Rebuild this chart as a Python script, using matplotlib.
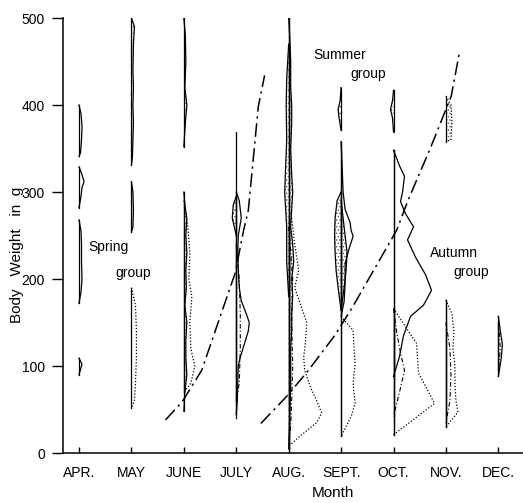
import matplotlib
matplotlib.use("Agg")
import matplotlib.pyplot as plt
import numpy as np

plt.rcParams['font.family'] = ['Liberation Sans', 'DejaVu Sans']
plt.rcParams['hatch.linewidth'] = 0.6

months = ['APR.', 'MAY', 'JUNE', 'JULY', 'AUG.', 'SEPT.', 'OCT.', 'NOV.', 'DEC.']
yticks = [0, 100, 200, 300, 400, 500]

# growth lines (month index, body weight g)
spring_m = [1.65, 1.97, 2.34, 2.98, 3.14, 3.23, 3.42, 3.54]
spring_w = [38, 59, 95, 207, 256, 279, 398, 434]
summer_m = [3.47, 3.96, 4.35, 4.89, 5.22, 6.06, 6.28, 6.70, 7.10, 7.26]
summer_w = [34, 65, 93, 136, 168, 256, 291, 350, 410, 461]

# vertical base lines of the kites: month, low, high
base_m = [3, 4, 5, 6, 7]
base_lo = [40, 5, 19, 21, 30]
base_hi = [369, 500, 358, 348, 176]

# kite profiles: weight (g) and relative frequency (negative = left side)
apr1_w = [400, 390, 375, 360, 345, 341]; apr1_f = [0, 2, 3, 2.5, 1.5, 0]
apr2_w = [329, 320, 312, 305, 295, 282]; apr2_f = [0, 3, 5, 3, 2, 0]
apr3_w = [268, 255, 240, 220, 200, 185, 172]; apr3_f = [0, 2, 2.5, 2.5, 3, 2, 0]
apr4_w = [109, 102, 98, 90]; apr4_f = [0, 3, 2, 0]

may1_w = [500, 490, 470, 440, 420, 400, 380, 360, 340, 331]
may1_f = [0, 3, 2, 1.5, 2, 1.5, 2, 1.5, 1, 0]
may2_w = [312, 300, 280, 260, 254]; may2_f = [0, 1.5, 2, 1.5, 0]
may3_w = [190, 170, 140, 110, 80, 60, 52]; may3_f = [0, 4, 5, 5, 4, 3, 0]

jun1_w = [500, 480, 450, 420, 400, 380, 352]; jun1_f = [0, 1.5, 2, 1, 3, 1.5, 0]
jun2_w = [300, 285, 270, 250, 230, 210, 190, 170, 150, 130, 110, 90, 70, 48]
jun2_f = [0, 1, 3, 2, 3, 2, 2.5, 1, 3, 2, 2, 3, 1, 0]
jun3_w = [290, 260, 230, 200, 180, 150, 120, 100, 80, 70]
jun3_f = [0, 4, 6, 5, 8, 6, 7, 11, 7, 0]

jul1_w = [300, 290, 270, 250, 230, 210, 190, 175, 160, 150, 140, 125, 110, 100, 80, 60, 45]
jul1_f = [0, 3, 5, 2, 1.5, 2, 3, 5, 10, 13, 12, 8, 4, 2, 1.5, 1, 0]
jul2_w = [295, 285, 270, 260, 250]; jul2_f = [0, -3, -4, -2, 0]
jul3_w = [240, 200, 160, 120, 80, 60]; jul3_f = [0, 3, 4, 4, 3, 0]

aug1_w = [500, 480, 450, 420, 400, 380, 350, 320, 300, 280, 260, 240, 220, 200, 180,
          160, 140, 120, 100, 80, 60, 40, 20, 5]
aug1_f = [0, 1, 2, 2, 3, 3, 2, 3, 4, 3, 2, 4, 5, 3, 4, 3, 3, 2, 2, 2, 1.5, 1, 0.5, 0]
aug2_w = [470, 430, 400, 360, 330, 300, 280, 260, 240, 220, 200, 180]
aug2_f = [0, -2, -2.5, -2, -3, -4, -3, -2, -2, -2, -1, 0]
aug3_w = [270, 240, 210, 190, 170, 150, 130, 110, 95, 75, 60, 46, 35, 20, 8]
aug3_f = [3, 6, 10, 6, 12, 18, 17, 15, 16, 22, 28, 33, 28, 12, 0]
aug4_w = [260, 200, 150, 100, 60, 30, 10]; aug4_f = [0, 4, 3, 4, 3, 2, 0]

sep1_w = [420, 405, 395, 385, 371]; sep1_f = [0, -1, -3, -2, 0]
sep2_w = [300, 290, 270, 250, 230, 210, 190, 164]; sep2_f = [0, -4, -6, -6.5, -6, -5, -3, 0]
sep3_w = [290, 270, 250, 230, 210, 190, 164]; sep3_f = [0, 2, 4, 6, 5, 3, 0]
sep4_w = [358, 330, 300, 280, 265, 256, 249, 235, 218, 195, 174, 157]
sep4_f = [0, 1, 2, 4, 9, 10, 12, 8, 4, 4, 3, 0]
sep5_w = [157, 141, 120, 103, 80, 57, 42, 19]; sep5_f = [0, 12, 13, 14, 12, 14, 10, 0]

oct1_w = [417, 405, 395, 385, 369]; oct1_f = [0, -1, -3, -1, 0]
oct2_w = [348, 330, 318, 300, 289, 275, 260, 245, 225, 205, 187, 170, 157, 135, 111, 88]
oct2_f = [0, 6, 11, 9, 7, 12, 20, 14, 22, 32, 38, 30, 17, 10, 6, 0]
oct3_w = [166, 126, 92, 57, 21]; oct3_f = [0, 23, 25, 41, 0]
oct4_w = [166, 140, 115, 95, 70, 42]; oct4_f = [0, 3, 7, 11, 6, 0]

nov1_w = [410, 400, 380, 360, 358]; nov1_f = [0, 5, 6, 5, 0]
nov2_w = [176, 160, 140, 120, 100, 80, 60, 47, 30]; nov2_f = [0, 6, 8, 7, 9, 9, 10, 12, 0]
nov3_w = [150, 120, 90, 60, 35]; nov3_f = [0, 4, 5, 4, 0]

dec1_w = [157, 140, 125, 110, 88]; dec1_f = [0, 2, 4, 3, 0]
dec2_w = [150, 120, 95]; dec2_f = [0, 2, 0]

kites = [
    (0, apr1_w, apr1_f, '-', False), (0, apr2_w, apr2_f, '-', False),
    (0, apr3_w, apr3_f, '-', False), (0, apr4_w, apr4_f, '-', False),
    (1, may1_w, may1_f, '-', True), (1, may2_w, may2_f, '-', True),
    (1, may3_w, may3_f, ':', False),
    (2, jun1_w, jun1_f, '-', True), (2, jun2_w, jun2_f, '-', True),
    (2, jun3_w, jun3_f, ':', False),
    (3, jul1_w, jul1_f, '-', False), (3, jul2_w, jul2_f, '-', True),
    (3, jul3_w, jul3_f, '-.', False),
    (4, aug1_w, aug1_f, '-', True), (4, aug2_w, aug2_f, '-', True),
    (4, aug3_w, aug3_f, ':', False), (4, aug4_w, aug4_f, '-.', False),
    (5, sep1_w, sep1_f, '-', True), (5, sep2_w, sep2_f, '-', True),
    (5, sep3_w, sep3_f, '-', True), (5, sep4_w, sep4_f, '-', False),
    (5, sep5_w, sep5_f, ':', False),
    (6, oct1_w, oct1_f, '-', True), (6, oct2_w, oct2_f, '-', False),
    (6, oct3_w, oct3_f, ':', False), (6, oct4_w, oct4_f, '-.', False),
    (7, nov1_w, nov1_f, ':', True), (7, nov2_w, nov2_f, ':', False),
    (7, nov3_w, nov3_f, '-.', False),
    (8, dec1_w, dec1_f, '-', False), (8, dec2_w, dec2_f, '-.', False),
]

scale = 1 / 52.4  # one frequency unit -> month units

fig = plt.figure(figsize=(5.23, 5.03), dpi=100)
ax = fig.add_axes([0.1205, 0.0994, 0.8795, 0.8648])

dd = (0, (9, 3, 1.5, 3))
for m, w, f, ls, stip in kites:
    x = m + np.array(f) * scale
    if ls == '-.':
        ax.plot(x, w, color='k', lw=0.8, linestyle=(0, (4, 2, 1, 2)))
    elif ls == ':':
        ax.plot(x, w, color='k', lw=0.9, linestyle=(0, (1, 1.5)))
    else:
        ax.plot(x, w, color='k', lw=0.9)
    if stip:
        ax.fill_betweenx(w, m, x, facecolor='none', edgecolor='0.35', hatch='.....', lw=0)
    ax.plot([m, m], [min(w), max(w)], color='k', lw=0.9)

for m, lo, hi in zip(base_m, base_lo, base_hi):
    ax.plot([m, m], [lo, hi], color='k', lw=0.9)

ax.plot(spring_m, spring_w, color='k', lw=1.1, linestyle=dd)
ax.plot(summer_m, summer_w, color='k', lw=1.1, linestyle=dd)

tkw = dict(fontsize=10, color='k')
ax.text(0.17, 237, 'Spring', va='center', ha='left', **tkw)
ax.text(0.69, 207, 'group', va='center', ha='left', **tkw)
ax.text(4.47, 457, 'Summer', va='center', ha='left', **tkw)
ax.text(5.18, 436, 'group', va='center', ha='left', **tkw)
ax.text(6.70, 230, 'Autumn', va='center', ha='left', **tkw)
ax.text(7.14, 208, 'group', va='center', ha='left', **tkw)

ax.set_xlim(-0.305, 8.47)
ax.set_ylim(0, 500)
ax.set_xticks(range(len(months)))
ax.set_xticklabels(months, fontsize=10)
ax.set_yticks(yticks)
ax.set_yticklabels([str(v) for v in yticks], fontsize=10)
ax.tick_params(axis='x', direction='in', length=4, width=1, pad=9)
ax.tick_params(axis='y', direction='out', length=8, width=1, pad=5)
for s in ['top', 'right']:
    ax.spines[s].set_visible(False)
ax.spines['left'].set_linewidth(1.1)
ax.spines['bottom'].set_linewidth(1.1)

ax.set_xlabel('Month', fontsize=11)
ax.xaxis.set_label_coords(0.587, -0.075)
ax.set_ylabel('Body   Weight   in  g', fontsize=11)
ax.yaxis.set_label_coords(-0.085, 0.455)

fig.savefig('out.png', dpi=100)
